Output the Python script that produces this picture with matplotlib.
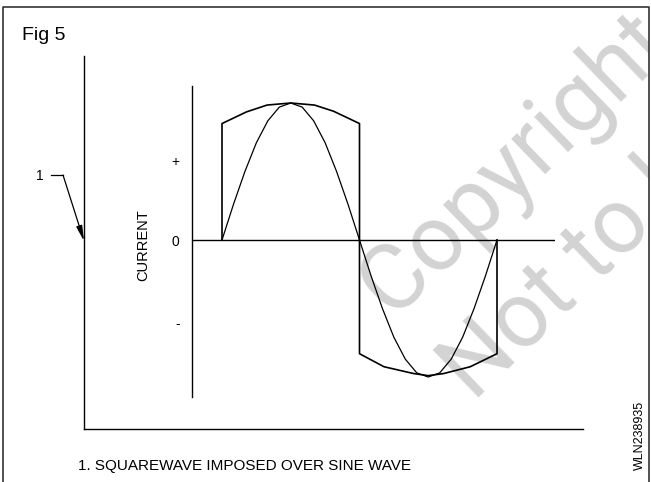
import matplotlib.pyplot as plt
import numpy as np

plt.rcParams['font.family'] = ['Liberation Sans', 'DejaVu Sans']

# sine wave, sampled every 15 degrees over one full cycle
sine_phase = [0, 15, 30, 45, 60, 75, 90, 105, 120, 135, 150, 165, 180,
              195, 210, 225, 240, 255, 270, 285, 300, 315, 330, 345, 360]
sine_level = [0.0, 0.26, 0.5, 0.71, 0.87, 0.97, 1.0, 0.97, 0.87, 0.71, 0.5, 0.26, 0.0,
              -0.26, -0.5, -0.71, -0.87, -0.97, -1.0, -0.97, -0.87, -0.71, -0.5, -0.26, 0.0]

# square wave: rounded top of the positive half and bottom of the negative half
sq_pos_phase = [0, 32, 59, 90, 121, 146, 180]
sq_pos_level = [0.85, 0.935, 0.985, 1.0, 0.985, 0.94, 0.85]
sq_neg_phase = [180, 212, 251, 270, 290, 325, 360]
sq_neg_level = [-0.83, -0.925, -0.975, -0.99, -0.975, -0.925, -0.83]

tick_vals = [-0.6, 0, 0.58]
tick_text = ['-', '0', '+']

W, H = 651, 482
fig = plt.figure(figsize=(W / 100, H / 100), dpi=100)

# background axes in pixel units for the frame and the notes
bg = fig.add_axes([0, 0, 1, 1])
bg.set_xlim(0, W)
bg.set_ylim(H, 0)
bg.axis('off')

bg.plot([2.5, 2.5, 649, 649], [H, 6.5, 6.5, H], color='#333333', lw=1.2)

# watermark
wcol = '#d3d3d3'
wm = dict(color=wcol, fontsize=66, family='Roboto', fontweight='normal',
          rotation=44, rotation_mode='anchor', ha='left', va='baseline', zorder=0)
t1 = bg.text(392, 318, 'Copyright', **wm)
t2 = bg.text(474, 402, 'Not to be Republished', **wm)
clip = plt.Rectangle((2.5, 6.5), 646.5, H, transform=bg.transData, visible=False)
bg.add_patch(clip)
for t in (t1, t2):
    t.set_clip_path(clip)
    t.set_clip_on(True)

bg.text(22, 40, 'Fig 5', fontsize=14, ha='left', va='baseline')
bg.text(78, 470, '1. SQUAREWAVE IMPOSED OVER SINE WAVE', fontsize=11,
        ha='left', va='baseline')
bg.text(646, 435, 'WLN238935', fontsize=9, rotation=90, ha='right', va='center')
bg.text(143, 245, 'CURRENT', fontsize=10.5, rotation=90, ha='center', va='center')

# pointer "1"
bg.text(40, 176, '1', fontsize=10, ha='center', va='center')
bg.plot([51, 63], [175, 175], color='k', lw=0.9)
bg.annotate('', xy=(84, 241), xytext=(63, 175),
            arrowprops=dict(arrowstyle='-|>,head_length=0.9,head_width=0.18',
                            color='k', lw=0.9, shrinkA=0, shrinkB=0))

# outer axes lines
outer = fig.add_axes([84 / W, 1 - 429 / H, (583 - 84) / W, (429 - 56) / H])
outer.patch.set_visible(False)
for s in ['top', 'right']:
    outer.spines[s].set_visible(False)
for s in ['left', 'bottom']:
    outer.spines[s].set_linewidth(1.0)
outer.set_xticks([])
outer.set_yticks([])

# wave axes
x0_px, half_px, zero_px, amp_px = 222, 137.5, 240, 137
left_px, right_px, top_px, bot_px = 192, 555, 86, 397
ax = fig.add_axes([left_px / W, 1 - bot_px / H, (right_px - left_px) / W,
                   (bot_px - top_px) / H])
ax.patch.set_visible(False)
ax.set_xlim((left_px - x0_px) / half_px * 180, (right_px - x0_px) / half_px * 180)
ax.set_ylim((zero_px - bot_px) / amp_px, (zero_px - top_px) / amp_px)
for s in ['top', 'right', 'bottom']:
    ax.spines[s].set_visible(False)
ax.spines['left'].set_linewidth(1.0)
ax.axhline(0, color='k', lw=1.0)
ax.set_xticks([])
ax.set_yticks(tick_vals)
ax.set_yticklabels(tick_text, fontsize=10)
ax.tick_params(axis='y', length=0, pad=9)

ax.plot(sine_phase, sine_level, color='k', lw=0.9)

sq_x = [0] + sq_pos_phase + sq_neg_phase + [360]
sq_y = [0] + sq_pos_level + sq_neg_level + [0]
ax.plot(sq_x, sq_y, color='k', lw=1.2)

fig.savefig('out.png', dpi=100)
